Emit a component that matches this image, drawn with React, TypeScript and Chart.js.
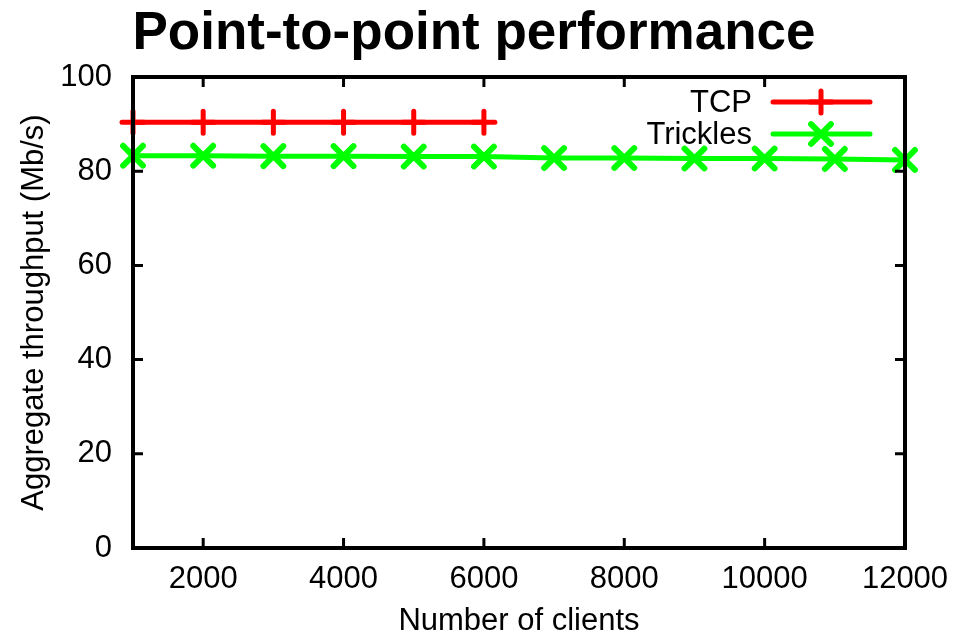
import React, { useEffect, useRef } from 'react';
import { Chart, registerables } from 'chart.js';

Chart.register(...registerables);

const chartTitle = 'Point-to-point performance';
const xAxisTitle = 'Number of clients';
const yAxisTitle = 'Aggregate throughput (Mb/s)';

const seriesNames = ['TCP', 'Trickles'];
const tcpClients = [1000, 2000, 3000, 4000, 5000, 6000];
const tcpThroughput = [90.4, 90.4, 90.4, 90.4, 90.4, 90.4];
const tricklesClients = [1000, 2000, 3000, 4000, 5000, 6000, 7000, 8000, 9000, 10000, 11000, 12000];
const tricklesThroughput = [83.3, 83.3, 83.2, 83.2, 83.1, 83.1, 82.8, 82.8, 82.7, 82.7, 82.6, 82.4];

const xMin = 1000;
const xMax = 12000;
const xTicks = [2000, 4000, 6000, 8000, 10000, 12000];
const yMin = 0;
const yMax = 100;
const yTicks = [0, 20, 40, 60, 80, 100];

const FONT = '"Liberation Sans", Arial, Helvetica, sans-serif';

const gnuplotPlugin = {
  id: 'gnuplotDecor',
  beforeDatasetsDraw(chart: any) {
    chart.ctx.save();
    chart.ctx.lineCap = 'round';
    chart.ctx.lineJoin = 'round';
  },
  afterDatasetsDraw(chart: any) {
    chart.ctx.restore();
    const ctx = chart.ctx;
    const { left, right, top, bottom } = chart.chartArea;
    const xs = chart.scales.x;
    const ys = chart.scales.y;
    ctx.save();
    ctx.strokeStyle = '#000';
    // tick marks (inward, mirrored)
    ctx.lineWidth = 3;
    ctx.lineCap = 'butt';
    const tl = 10;
    xTicks.forEach((v) => {
      const px = xs.getPixelForValue(v);
      ctx.beginPath();
      ctx.moveTo(px, bottom);
      ctx.lineTo(px, bottom - tl);
      ctx.moveTo(px, top);
      ctx.lineTo(px, top + tl);
      ctx.stroke();
    });
    yTicks.forEach((v) => {
      const py = ys.getPixelForValue(v);
      ctx.beginPath();
      ctx.moveTo(left, py);
      ctx.lineTo(left + tl, py);
      ctx.moveTo(right, py);
      ctx.lineTo(right - tl, py);
      ctx.stroke();
    });
    // border
    ctx.lineWidth = 4;
    ctx.lineJoin = 'miter';
    ctx.strokeRect(left, top, right - left, bottom - top);

    // legend (gnuplot style, top-right inside)
    ctx.font = `31px ${FONT}`;
    ctx.textAlign = 'right';
    ctx.textBaseline = 'middle';
    chart.data.datasets.forEach((ds: any, i: number) => {
      const y = top + 25 + i * 32;
      ctx.fillStyle = '#000';
      ctx.fillText(ds.label, right - 153, y + 1);
      ctx.strokeStyle = ds.borderColor;
      ctx.lineWidth = ds.borderWidth;
      ctx.lineCap = 'round';
      ctx.beginPath();
      ctx.moveTo(right - 132, y);
      ctx.lineTo(right - 35, y);
      ctx.stroke();
      const cx = right - 84;
      const r = ds.pointRadius;
      ctx.lineWidth = ds.pointBorderWidth;
      ctx.beginPath();
      if (ds.pointStyle === 'cross') {
        ctx.moveTo(cx - r, y);
        ctx.lineTo(cx + r, y);
        ctx.moveTo(cx, y - r);
        ctx.lineTo(cx, y + r);
      } else {
        const d = r * Math.SQRT1_2;
        ctx.moveTo(cx - d, y - d);
        ctx.lineTo(cx + d, y + d);
        ctx.moveTo(cx - d, y + d);
        ctx.lineTo(cx + d, y - d);
      }
      ctx.stroke();
    });

    // title
    ctx.fillStyle = '#000';
    ctx.font = `bold 53px ${FONT}`;
    ctx.textAlign = 'center';
    ctx.textBaseline = 'alphabetic';
    ctx.fillText(chartTitle, 474, 49);
    ctx.restore();
  },
};

export default function App() {
  const ref = useRef<HTMLCanvasElement | null>(null);

  useEffect(() => {
    if (!ref.current) return;
    const chart = new Chart(ref.current, {
      type: 'line',
      data: {
        datasets: [
          {
            label: seriesNames[0],
            data: tcpClients.map((x, i) => ({ x, y: tcpThroughput[i] })),
            borderColor: '#ff0000',
            backgroundColor: '#ff0000',
            borderWidth: 5,
            borderCapStyle: 'round',
            pointStyle: 'cross',
            pointRadius: 11,
            pointBorderWidth: 5,
            clip: false,
          },
          {
            label: seriesNames[1],
            data: tricklesClients.map((x, i) => ({ x, y: tricklesThroughput[i] })),
            borderColor: '#00ff00',
            backgroundColor: '#00ff00',
            borderWidth: 5,
            borderCapStyle: 'round',
            pointStyle: 'crossRot',
            pointRadius: 14,
            pointBorderWidth: 6,
            clip: false,
          },
        ],
      },
      options: {
        animation: false,
        responsive: false,
        devicePixelRatio: 1,
        layout: { padding: { top: 77, right: 69, left: 0, bottom: 0 } },
        plugins: {
          legend: { display: false },
          title: { display: false },
          tooltip: { enabled: false },
        },
        scales: {
          x: {
            type: 'linear',
            min: xMin,
            max: xMax,
            afterBuildTicks: (s: any) => {
              s.ticks = xTicks.map((v) => ({ value: v }));
            },
            afterFit: (s: any) => {
              s.height = 93;
            },
            grid: { display: false, drawTicks: false },
            border: { display: false },
            ticks: {
              color: '#000',
              font: { size: 31, family: FONT },
              padding: 13,
              maxRotation: 0,
              autoSkip: false,
              callback: (v: any) => String(v),
            },
            title: {
              display: true,
              text: xAxisTitle,
              color: '#000',
              font: { size: 31, family: FONT },
              padding: { top: 0, bottom: 1 },
            },
          },
          y: {
            type: 'linear',
            min: yMin,
            max: yMax,
            afterBuildTicks: (s: any) => {
              s.ticks = yTicks.map((v) => ({ value: v }));
            },
            afterFit: (s: any) => {
              s.width = 133;
            },
            grid: { display: false, drawTicks: false },
            border: { display: false },
            ticks: {
              color: '#000',
              font: { size: 31, family: FONT },
              padding: 21,
              callback: (v: any) => String(v),
            },
            title: {
              display: true,
              text: yAxisTitle,
              color: '#000',
              font: { size: 31, family: FONT },
              padding: { top: 16, bottom: 0 },
            },
          },
        },
      },
      plugins: [gnuplotPlugin],
    } as any);
    return () => chart.destroy();
  }, []);

  return (
    <div style={{ position: 'absolute', left: 0, top: 0, width: 974, height: 641, background: '#fff' }}>
      <canvas ref={ref} width={974} height={641} style={{ display: 'block' }} />
    </div>
  );
}
